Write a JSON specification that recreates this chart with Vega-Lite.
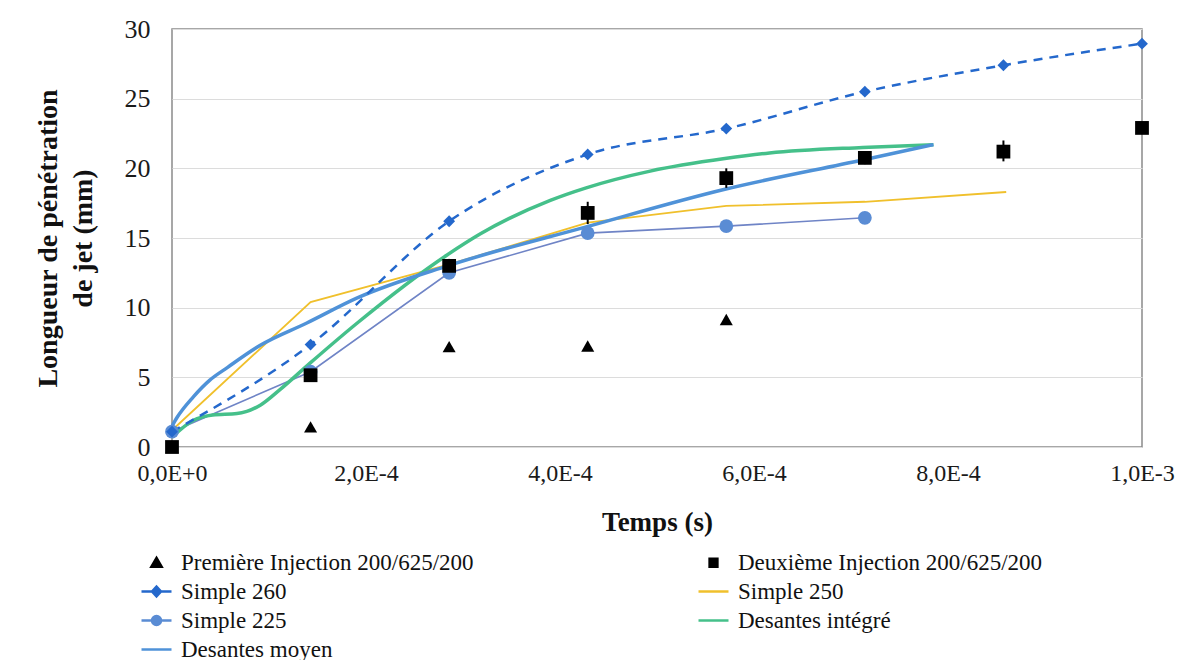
{
  "$schema": "https://vega.github.io/schema/vega-lite/v6.json",
  "width": 970,
  "height": 418,
  "autosize": {"type": "none"},
  "padding": {"left": 172, "top": 29, "right": 62, "bottom": 213},
  "background": "white",
  "config": {
    "font": "Liberation Serif",
    "view": {"stroke": "#8a8a8a", "strokeWidth": 1.5},
    "axis": {"labelFont": "Liberation Serif", "titleFont": "Liberation Serif", "labelColor": "#1a1a1a", "titleColor": "#111111", "gridColor": "#dcdcdc", "domain": false, "ticks": false},
    "legend": {"labelFont": "Liberation Serif", "labelFontSize": 23, "labelColor": "#111111"}
  },
  "datasets": {
    "d": [
      {"s": "Première Injection 200/625/200", "t": 0, "v": 0},
      {"s": "Première Injection 200/625/200", "t": 0.000142857, "v": 1.45},
      {"s": "Première Injection 200/625/200", "t": 0.000285714, "v": 7.2},
      {"s": "Première Injection 200/625/200", "t": 0.000428571, "v": 7.25},
      {"s": "Première Injection 200/625/200", "t": 0.000571429, "v": 9.15},
      {"s": "Deuxième Injection 200/625/200", "t": 0, "v": 0},
      {"s": "Deuxième Injection 200/625/200", "t": 0.000142857, "v": 5.15, "lo": 4.9, "hi": 5.4},
      {"s": "Deuxième Injection 200/625/200", "t": 0.000285714, "v": 13.0, "lo": 12.5, "hi": 13.5},
      {"s": "Deuxième Injection 200/625/200", "t": 0.000428571, "v": 16.8, "lo": 16.0, "hi": 17.6},
      {"s": "Deuxième Injection 200/625/200", "t": 0.000571429, "v": 19.3, "lo": 18.6, "hi": 20.0},
      {"s": "Deuxième Injection 200/625/200", "t": 0.000714286, "v": 20.75, "lo": 20.3, "hi": 21.2},
      {"s": "Deuxième Injection 200/625/200", "t": 0.000857143, "v": 21.2, "lo": 20.5, "hi": 22.0},
      {"s": "Deuxième Injection 200/625/200", "t": 0.001, "v": 22.9},
      {"s": "Simple 260", "t": 0, "v": 1.1},
      {"s": "Simple 260", "t": 0.000142857, "v": 7.35},
      {"s": "Simple 260", "t": 0.000285714, "v": 16.2},
      {"s": "Simple 260", "t": 0.000428571, "v": 21.0},
      {"s": "Simple 260", "t": 0.000571429, "v": 22.85},
      {"s": "Simple 260", "t": 0.000714286, "v": 25.5},
      {"s": "Simple 260", "t": 0.000857143, "v": 27.4},
      {"s": "Simple 260", "t": 0.001, "v": 28.95},
      {"s": "Simple 250", "t": 0, "v": 1.2},
      {"s": "Simple 250", "t": 0.000142857, "v": 10.4},
      {"s": "Simple 250", "t": 0.000285714, "v": 13.1},
      {"s": "Simple 250", "t": 0.000428571, "v": 16.1},
      {"s": "Simple 250", "t": 0.000571429, "v": 17.3},
      {"s": "Simple 250", "t": 0.000714286, "v": 17.6},
      {"s": "Simple 250", "t": 0.00086, "v": 18.3},
      {"s": "Simple 225", "t": 0, "v": 1.1},
      {"s": "Simple 225", "t": 0.000142857, "v": 5.4},
      {"s": "Simple 225", "t": 0.000285714, "v": 12.5},
      {"s": "Simple 225", "t": 0.000428571, "v": 15.35},
      {"s": "Simple 225", "t": 0.000571429, "v": 15.85},
      {"s": "Simple 225", "t": 0.000714286, "v": 16.45},
      {"s": "Desantes intégré", "t": 0, "v": 0.7},
      {"s": "Desantes intégré", "t": 0.0000216, "v": 1.9},
      {"s": "Desantes intégré", "t": 0.000042, "v": 2.3},
      {"s": "Desantes intégré", "t": 0.000067, "v": 2.4},
      {"s": "Desantes intégré", "t": 0.000091, "v": 3.0},
      {"s": "Desantes intégré", "t": 0.000111, "v": 4.1},
      {"s": "Desantes intégré", "t": 0.000142, "v": 6.0},
      {"s": "Desantes intégré", "t": 0.000191, "v": 8.9},
      {"s": "Desantes intégré", "t": 0.000284, "v": 13.8},
      {"s": "Desantes intégré", "t": 0.000318, "v": 15.3},
      {"s": "Desantes intégré", "t": 0.00039, "v": 17.7},
      {"s": "Desantes intégré", "t": 0.000427, "v": 18.6},
      {"s": "Desantes intégré", "t": 0.000493, "v": 19.8},
      {"s": "Desantes intégré", "t": 0.00057, "v": 20.7},
      {"s": "Desantes intégré", "t": 0.000616, "v": 21.1},
      {"s": "Desantes intégré", "t": 0.000712, "v": 21.5},
      {"s": "Desantes intégré", "t": 0.000785, "v": 21.7},
      {"s": "Desantes moyen", "t": 0, "v": 1.5},
      {"s": "Desantes moyen", "t": 0.000005, "v": 2.1},
      {"s": "Desantes moyen", "t": 0.000022, "v": 3.6},
      {"s": "Desantes moyen", "t": 0.000039, "v": 4.8},
      {"s": "Desantes moyen", "t": 0.000057, "v": 5.7},
      {"s": "Desantes moyen", "t": 0.000091, "v": 7.3},
      {"s": "Desantes moyen", "t": 0.000139, "v": 8.9},
      {"s": "Desantes moyen", "t": 0.000191, "v": 10.7},
      {"s": "Desantes moyen", "t": 0.000284, "v": 13.0},
      {"s": "Desantes moyen", "t": 0.000427, "v": 15.8},
      {"s": "Desantes moyen", "t": 0.00057, "v": 18.5},
      {"s": "Desantes moyen", "t": 0.000712, "v": 20.6},
      {"s": "Desantes moyen", "t": 0.000785, "v": 21.7}
    ]
  },
  "data": {"name": "d"},
  "encoding": {
    "x": {
      "field": "t", "type": "quantitative",
      "scale": {"domain": [0, 0.001], "nice": false, "zero": false},
      "axis": {
        "values": [0, 0.0002, 0.0004, 0.0006, 0.0008, 0.001],
        "labelExpr": "replace(upper(format(datum.value, '.1e')), '.', ',')",
        "labelFlush": false, "labelAlign": "center",
        "grid": false, "labelFontSize": 24, "labelPadding": 14,
        "title": "Temps (s)", "titleFontSize": 27, "titleFontWeight": "bold", "titlePadding": 24
      }
    },
    "y": {
      "field": "v", "type": "quantitative",
      "scale": {"domain": [0, 30], "nice": false},
      "axis": {
        "values": [0, 5, 10, 15, 20, 25, 30],
        "grid": true, "labelFontSize": 26, "labelPadding": 22,
        "title": ["Longueur de pénétration", "de jet (mm)"],
        "titleFontSize": 28, "titleFontWeight": "bold", "titleLineHeight": 35, "titlePadding": 27
      }
    }
  },
  "layer": [
    {
      "transform": [{"filter": "datum.s == 'Simple 225'"}],
      "mark": {"type": "line", "color": "#6f84c6", "strokeWidth": 1.6},
      "encoding": {}
    },
    {
      "transform": [{"filter": "datum.s == 'Simple 250'"}],
      "mark": {"type": "line", "color": "#f0c02c", "strokeWidth": 1.8},
      "encoding": {}
    },
    {
      "transform": [{"filter": "datum.s == 'Desantes intégré'"}],
      "mark": {"type": "line", "color": "#45c08a", "strokeWidth": 3.5, "interpolate": "monotone"},
      "encoding": {}
    },
    {
      "transform": [{"filter": "datum.s == 'Desantes moyen'"}],
      "mark": {"type": "line", "color": "#4f92d8", "strokeWidth": 3.5, "interpolate": "monotone"},
      "encoding": {}
    },
    {
      "transform": [{"filter": "datum.s == 'Simple 260'"}],
      "mark": {"type": "line", "color": "#2468cc", "strokeWidth": 2.5, "strokeDash": [9, 7], "interpolate": "monotone"},
      "encoding": {}
    },
    {
      "transform": [{"filter": "isValid(datum.lo)"}],
      "mark": {"type": "rule", "color": "#000000", "strokeWidth": 2},
      "encoding": {"y": {"field": "lo", "type": "quantitative"}, "y2": {"field": "hi"}}
    },
    {
      "transform": [{"filter": "datum.s == 'Simple 225'"}],
      "mark": {"type": "point", "shape": "circle", "filled": true, "size": 190, "color": "#5a8cd4", "opacity": 1}
    },
    {
      "transform": [{"filter": "datum.s == 'Simple 260'"}],
      "mark": {"type": "point", "shape": "diamond", "filled": true, "size": 140, "color": "#2468cc", "opacity": 1}
    },
    {
      "transform": [{"filter": "datum.s == 'Première Injection 200/625/200'"}],
      "mark": {"type": "point", "shape": "triangle-up", "filled": true, "size": 170, "color": "#000000", "opacity": 1}
    },
    {
      "transform": [{"filter": "datum.s == 'Deuxième Injection 200/625/200'"}],
      "mark": {"type": "point", "shape": "square", "filled": true, "size": 190, "color": "#000000", "opacity": 1}
    },
    {
      "mark": {"type": "point", "filled": true, "opacity": 0, "size": 900},
      "encoding": {
        "color": {
          "field": "s", "type": "nominal",
          "scale": {
            "domain": ["Première Injection 200/625/200", "Deuxième Injection 200/625/200", "Simple 260", "Simple 250", "Simple 225", "Desantes intégré", "Desantes moyen"],
            "range": ["#000000", "#000000", "#2468cc", "#f0c02c", "#5a8cd4", "#45c08a", "#4f92d8"]
          },
          "legend": {
            "title": null, "orient": "none", "legendX": -32, "legendY": 517, "direction": "horizontal",
            "columns": 2, "columnPadding": 219, "rowPadding": -4,
            "symbolSize": 900, "symbolOpacity": 1, "symbolStrokeWidth": 2.5,
            "labelFont": "Liberation Serif", "labelFontSize": 23, "labelColor": "#111111", "labelOffset": 8, "labelLimit": 500,
            "encode": {"symbols": {"update": {"stroke": {"scale": "color", "field": "value"}}}, "labels": {"update": {"font": {"value": "Liberation Serif"}}}}
          }
        },
        "shape": {
          "field": "s", "type": "nominal",
          "scale": {
            "domain": ["Première Injection 200/625/200", "Deuxième Injection 200/625/200", "Simple 260", "Simple 250", "Simple 225", "Desantes intégré", "Desantes moyen"],
            "range": [
              "M0,-0.32L0.34,0.26L-0.34,0.26Z",
              "M-0.26,-0.26L0.26,-0.26L0.26,0.26L-0.26,0.26Z",
              "M-1,0L1,0M0,-0.33L0.3,0L0,0.33L-0.3,0Z",
              "M-1,0L1,0",
              "M-1,0L1,0M-0.3,0A0.3,0.3,0,1,1,0.3,0A0.3,0.3,0,1,1,-0.3,0Z",
              "M-1,0L1,0",
              "M-1,0L1,0"
            ]
          },
          "legend": {
            "title": null, "orient": "none", "legendX": -32, "legendY": 517, "direction": "horizontal",
            "columns": 2, "columnPadding": 219, "rowPadding": -4,
            "symbolSize": 900, "symbolOpacity": 1, "symbolStrokeWidth": 2.5,
            "labelFont": "Liberation Serif", "labelFontSize": 23, "labelColor": "#111111", "labelOffset": 8, "labelLimit": 500
          }
        }
      }
    }
  ]
}
